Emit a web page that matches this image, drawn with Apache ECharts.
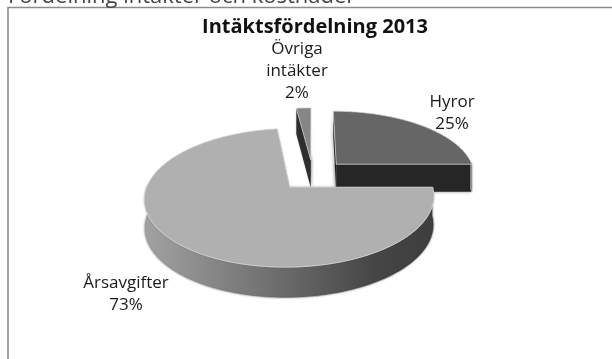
<!DOCTYPE html>
<html>
<head>
<meta charset="utf-8">
<style>html,body{margin:0;padding:0;background:#fff}#c{width:612px;height:359px}</style>
<script src="https://cdn.jsdelivr.net/npm/echarts@6/dist/echarts.min.js"></script>
</head>
<body>
<div id="c"></div>
<script>
// Income split for 2013
const categories = ['Hyror', 'Årsavgifter', 'Övriga\nintäkter'];
const shares = [25, 73, 2];
const topColors = ['#666666', '#b0b0b0', '#868686'];
const cutColors = ['#262626', '#8a8a8a', '#2e2e2e'];
const chartTitle = 'Intäktsfördelning 2013';
const headingAbove = 'Fördelning intäkter och kostnader';

// Perspective camera for the tilted disc
const view = { cx: 312.8, cy: 175, rx: 139, ry: 64, k: 0.15, explode: 0.245, depth: 28 };
const labelAnchors = [[452, 113], [126, 294], [297, 71]];

const total = shares.reduce((a, b) => a + b, 0);

function project(u, v, z) {
  const w = 1 + view.k * v;
  return [
    view.cx + view.rx * u / w,
    view.cy - view.ry * v / w + (z ? view.depth / Math.sqrt(w) : 0)
  ];
}

function sliceAngles(index) {
  let before = 0;
  for (let i = 0; i < index; i++) before += shares[i];
  return [before / total * 2 * Math.PI, (before + shares[index]) / total * 2 * Math.PI];
}

function arcWorld(a0, a1, ox, oy) {
  const pts = [];
  const n = Math.max(4, Math.ceil((a1 - a0) / 0.02));
  for (let i = 0; i <= n; i++) {
    const a = a0 + (a1 - a0) * i / n;
    pts.push([ox + Math.sin(a), oy + Math.cos(a), a]);
  }
  return pts;
}

function renderSlice(params, api) {
  const i = params.dataIndex;
  const [a0, a1] = sliceAngles(i);
  const mid = (a0 + a1) / 2;
  const ox = Math.sin(mid) * view.explode;
  const oy = Math.cos(mid) * view.explode;
  const arc = arcWorld(a0, a1, ox, oy);
  const base = 10 * (i === 1 ? 3 : i === 0 ? 2 : 1);
  const children = [];

  const top = arc.map(p => project(p[0], p[1], false));
  const apex = project(ox, oy, false);
  const apexLow = project(ox, oy, true);

  // Flat cut faces along both radial edges, with a soft contact shadow
  [arc[0], arc[arc.length - 1]].forEach(rim => {
    children.push({
      type: 'polygon',
      z2: base,
      shape: { points: [apex, project(rim[0], rim[1], false), project(rim[0], rim[1], true), apexLow] },
      style: {
        fill: cutColors[i],
        shadowColor: 'rgba(0,0,0,0.4)',
        shadowBlur: 3,
        shadowOffsetX: i === 2 ? 1 : -1
      }
    });
  });

  // Curved outer wall, shaded from light on the left to dark on the right
  const front = arc.filter(p => Math.cos(p[2]) < 0.05);
  if (front.length > 1 && i !== 2) {
    const upper = front.map(p => project(p[0], p[1], false));
    const lower = front.map(p => project(p[0], p[1], true)).reverse();
    children.push({
      type: 'polygon',
      z2: base + 1,
      shape: { points: upper.concat(lower) },
      style: {
        fill: new echarts.graphic.LinearGradient(0, 0, 1, 0, [
          { offset: 0, color: '#a2a2a2' },
          { offset: 0.5, color: '#686868' },
          { offset: 0.8, color: '#454545' },
          { offset: 1, color: '#3e3e3e' }
        ], false),
        stroke: '#d8d8d8',
        lineWidth: 0.6,
        shadowColor: 'rgba(0,0,0,0.25)',
        shadowBlur: 2
      }
    });
  }

  // Top face
  children.push({
    type: 'polygon',
    z2: base + 2,
    shape: { points: [apex].concat(top) },
    style: { fill: topColors[i], stroke: '#d4d4d4', lineWidth: 0.7 }
  });

  // Category and share label
  children.push({
    type: 'text',
    z2: 50,
    style: {
      x: labelAnchors[i][0],
      y: labelAnchors[i][1],
      text: categories[i] + '\n' + api.value(0) + '%',
      align: 'center',
      verticalAlign: 'middle',
      fill: '#1a1a1a',
      font: '17px "Open Sans"',
      lineHeight: 22
    }
  });

  return { type: 'group', children };
}

const chart = echarts.init(document.getElementById('c'), null, { renderer: 'canvas' });
chart.setOption({
  animation: false,
  backgroundColor: '#fff',
  title: {
    text: chartTitle,
    left: 310,
    top: 12,
    textAlign: 'center',
    textStyle: { fontFamily: '"Open Sans"', fontWeight: 'bold', fontSize: 20, color: '#111' }
  },
  series: [{
    type: 'custom',
    coordinateSystem: 'none',
    renderItem: renderSlice,
    data: shares.map(v => [v])
  }],
  graphic: {
    elements: [
      {
        type: 'rect', silent: true, z: -1,
        shape: { x: 8, y: 7.5, width: 640, height: 400 },
        style: { fill: 'none', stroke: '#8c8c8c', lineWidth: 1.6 }
      },
      {
        // Section heading from the page above, cut off by the top edge
        type: 'text', x: 8, y: -14, silent: true,
        style: { text: headingAbove, font: '22px "Open Sans"', fill: '#444' }
      }
    ]
  }
});
</script>
</body>
</html>
